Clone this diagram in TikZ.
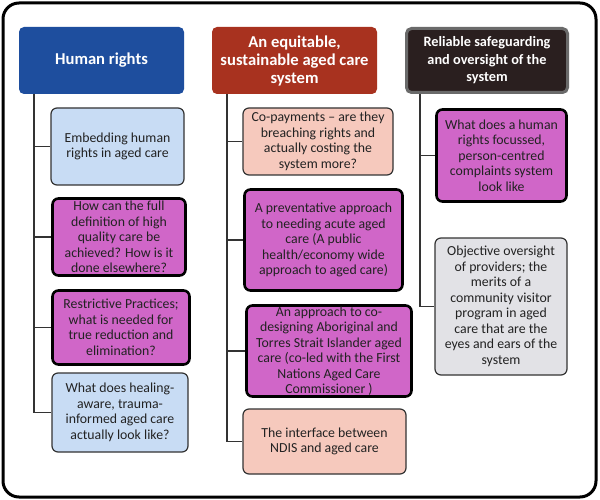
\documentclass[tikz,border=0pt]{standalone}
\usepackage{fontspec}
\setmainfont{Carlito}
\definecolor{hblue}{HTML}{1E4E9E}
\definecolor{hred}{HTML}{A8321F}
\definecolor{hdark}{HTML}{2A1F1F}
\definecolor{hgrayedge}{HTML}{6A6A6A}
\definecolor{lblue}{HTML}{C8DCF4}
\definecolor{mag}{HTML}{D066C8}
\definecolor{lpink}{HTML}{F6C9BD}
\definecolor{lgray}{HTML}{E2E2E6}
\definecolor{edge}{HTML}{333333}
\definecolor{txt}{HTML}{222222}
\tikzset{
  hdr/.style={rounded corners=5pt, inner sep=0pt, align=center, text=white,
    font=\bfseries\fontsize{16.6}{18}\selectfont},
  box/.style={rounded corners=6pt, inner sep=0pt, align=center, text=txt,
    font=\fontsize{13.8}{15.5}\selectfont},
  light/.style={box, draw=edge, line width=1.2pt},
  strong/.style={box, draw=black, line width=2.6pt, fill=mag},
  link/.style={draw=edge, line width=1.2pt}
}
\begin{document}
\begin{tikzpicture}[x=1pt,y=-1pt]
\fill[white] (0,0) rectangle (600,500);
\useasboundingbox (0,0) rectangle (600,500);
\draw[line width=3pt, rounded corners=16pt] (3,3) rectangle (596,497);

% headers
\node[hdr, fill=hblue, minimum width=165pt, minimum height=67pt] (h1) at (101.5,60.5) {Human rights};
\node[hdr, fill=hred, minimum width=165pt, minimum height=67pt] (h2) at (294.5,60.5) {An equitable,\\sustainable aged care\\system};
\node[hdr, fill=hdark, draw=hgrayedge, line width=3pt, minimum width=161pt, minimum height=64pt,
  font=\bfseries\fontsize{14.3}{17.5}\selectfont] (h3) at (487,60.5) {Reliable safeguarding\\and oversight of the\\system};

% column 1
\node[light, fill=lblue, minimum width=133pt, minimum height=77pt] (b11) at (117.5,146.5) {Embedding human\\rights in aged care};
\node[strong, minimum width=133pt, minimum height=77pt] (b12) at (119,237) {How can the full\\definition of high\\quality care be\\achieved? How is it\\done elsewhere?};
\node[strong, minimum width=137pt, minimum height=74pt] (b13) at (121,327.5) {Restrictive Practices;\\what is needed for\\true reduction and\\elimination?};
\node[light, fill=lblue, minimum width=136pt, minimum height=79pt] (b14) at (120,412.5) {What does healing-\\aware, trauma-\\informed aged care\\actually look like?};

% column 2
\node[light, fill=lpink, minimum width=150pt, minimum height=67pt] (b21) at (318,141.5) {Co-payments -- are they\\breaching rights and\\actually costing the\\system more?};
\node[strong, minimum width=158pt, minimum height=101pt] (b22) at (323.5,240) {A preventative approach\\to needing acute aged\\care (A public\\health/economy wide\\approach to aged care)};
\node[strong, minimum width=165pt, minimum height=91pt] (b23) at (329,351) {An approach to co-\\designing Aboriginal and\\Torres Strait Islander aged\\care (co-led with the First\\Nations Aged Care\\Commissioner )};
\node[light, fill=lpink, minimum width=163pt, minimum height=65pt] (b24) at (324.5,441.5) {The interface between\\NDIS and aged care};

% column 3
\node[strong, minimum width=130pt, minimum height=92pt] (b31) at (501.5,155.5) {What does a human\\rights focussed,\\person-centred\\complaints system\\look like};
\node[light, fill=lgray, minimum width=132pt, minimum height=137pt] (b32) at (501,306.5) {Objective oversight\\of providers; the\\merits of a\\community visitor\\program in aged\\care that are the\\eyes and ears of the\\system};

% connectors
\coordinate (v1) at (34,94);
\coordinate (v2) at (227,94);
\coordinate (v3) at (420,94);
\draw[link] (v1) |- (b14.west);
\foreach \b in {b11,b12,b13} \draw[link] (v1 |- \b.west) -- (\b.west);
\draw[link] (v2) |- (b24.west);
\foreach \b in {b21,b22,b23} \draw[link] (v2 |- \b.west) -- (\b.west);
\draw[link] (v3) |- (b32.west);
\draw[link] (v3 |- b31.west) -- (b31.west);
\end{tikzpicture}
\end{document}
